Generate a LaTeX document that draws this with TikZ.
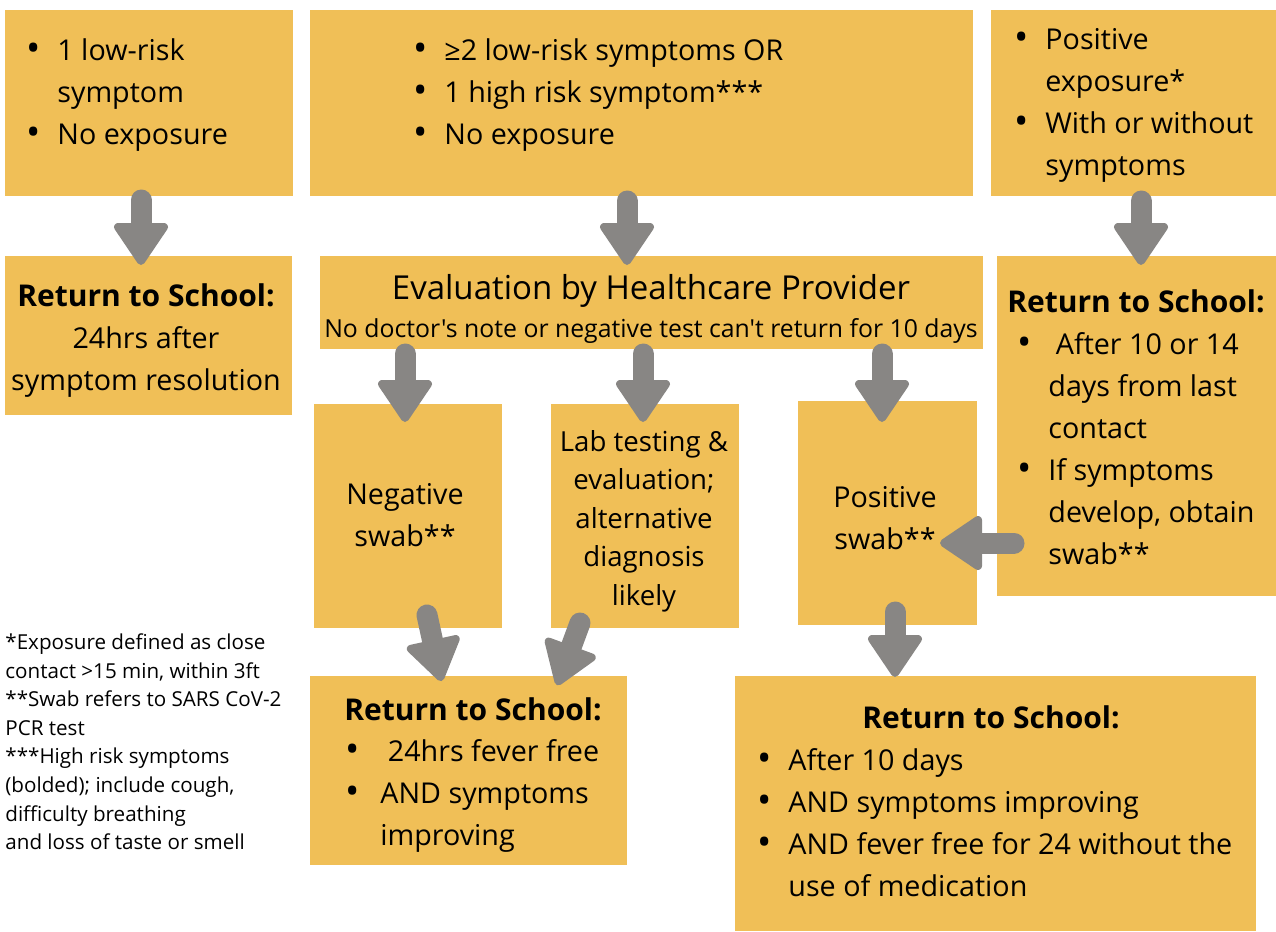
\documentclass[tikz,border=0pt]{standalone}
\usepackage{fontspec}
\setmainfont{Open Sans}
\newfontfamily\osraw{Open Sans}[Ligatures=TeXOff]
\usetikzlibrary{calc,fit}
\definecolor{gold}{RGB}{240,191,87}
\definecolor{agrey}{RGB}{136,134,132}
\newcommand\bfont{\fontsize{14.35}{21}\selectfont}
\newcommand\hdr[1]{{\fontsize{15}{21}\selectfont\bfseries #1}}
\newcommand\bu[1][15.5pt]{\makebox[#1][l]{\raisebox{-0.5pt}{\fontsize{19}{19}\selectfont •}}}
\newcommand\nb[1][15.5pt]{\hspace*{#1}}
\newcommand\blockarrow[2]{%
  \draw[ashaft] (#1) -- ($(#2)!20pt!(#1)$);
  \draw[ahead] ($(#2)!3.5pt!(#1)$) -- ($(#2)!20.5pt!(#1)!11.5pt!90:(#2)$)
     -- ($(#2)!20.5pt!(#1)!11.5pt!-90:(#2)$) -- cycle;}
\tikzset{
  box/.style={fill=gold, draw=none, inner sep=0pt},
  tl/.style={anchor=north west, align=left, inner sep=0pt, font=\bfont, yshift=14.7pt},
  tc/.style={anchor=north, align=center, inner sep=0pt, font=\bfont, yshift=14.7pt},
  ashaft/.style={draw=agrey, line width=10.5pt, line cap=round},
  ahead/.style={draw=agrey, fill=agrey, line width=4pt, line join=round},
}
\begin{document}
\begin{tikzpicture}[x=0.5pt,y=-0.5pt]
\useasboundingbox (0,0) rectangle (1276,932);
% boxes
\node[box, fit={(5,10)(293,196)}] (b1) {};
\node[box, fit={(310,10)(973,196)}] (b2) {};
\node[box, fit={(991,10)(1276,196)}] (b3) {};
\node[box, fit={(5,256)(292,415)}] (b4) {};
\node[box, fit={(320,256)(983,349)}] (b5) {};
\node[box, fit={(997,256)(1276,596)}] (b6) {};
\node[box, fit={(314,404)(502,628)}] (b7) {};
\node[box, fit={(551,404)(739,628)}] (b8) {};
\node[box, fit={(798,401)(977,625)}] (b9) {};
\node[box, fit={(310,676)(627,865)}] (b10) {};
\node[box, fit={(735,676)(1256,931)}] (b11) {};
% texts
\node[tl] (t1) at (26,60) {\strut\bu 1 low-risk\\\nb symptom\\\bu No exposure};
\node[tl] (t2) at (413,60) {\strut\bu ≥2 low-risk symptoms OR\\\bu 1 high risk symptom***\\\bu No exposure};
\node[tl] (t3) at (1014,49) {\strut\bu Positive\\\nb exposure*\\\bu With or without\\\nb symptoms};
\node[tc] (t4) at (146,306) {\strut\hdr{Return to School:}\\24hrs after\\symptom resolution};
\node[anchor=base, inner sep=0pt, font=\fontsize{16.5}{21}\selectfont] (t5a) at (651,299) {Evaluation by Healthcare Provider};
\node[anchor=base, inner sep=0pt, font=\osraw\fontsize{12.4}{21}\selectfont] (t5b) at (651,337) {No doctor's note or negative test can't return for 10 days};
\node[tc] (t6a) at (1136,312) {\strut\hdr{Return to School:}};
\node[tl] (t6b) at (1017,354) {\strut\bu\ After 10 or 14\\\nb days from last\\\nb contact\\\bu If symptoms\\\nb develop, obtain\\\nb swab**};
\node[tc] (t7) at (405,504) {\strut Negative\\swab**};
\node[tc, font=\fontsize{13.8}{19.25}\selectfont, yshift=-1.2pt] (t8) at (644,451) {\strut Lab testing \&\\evaluation;\\alternative\\diagnosis\\likely};
\node[tc] (t9) at (885,507) {\strut Positive\\swab**};
\node[tc] (t10a) at (473,720) {\strut\hdr{Return to School:}};
\node[tl] (t10b) at (345,761) {\strut\bu[17.5pt]\ 24hrs fever free\\\bu[17.5pt]AND symptoms\\\nb[17.5pt]improving};
\node[tc] (t11a) at (991,728) {\strut\hdr{Return to School:}};
\node[tl] (t11b) at (757,770) {\strut\bu After 10 days\\\bu AND symptoms improving\\\bu AND fever free for 24 without the\\\nb use of medication};
\node[anchor=north west, align=left, inner sep=0pt, font=\fontsize{10.3}{14.3}\selectfont, yshift=10pt] (fn) at (5,649)
  {\strut*Exposure defined as close\\contact >15 min, within 3ft\\**Swab refers to SARS CoV-2\\PCR test\\***High risk symptoms\\(bolded); include cough,\\difficulty breathing\\and loss of taste or smell};
% arrow coordinates
\coordinate (a1s) at (141,200); \coordinate (a1t) at (141,268);
\coordinate (a2s) at (627,201); \coordinate (a2t) at (627,268);
\coordinate (a3s) at (1141,201); \coordinate (a3t) at (1141,268);
\coordinate (a4s) at (405,354); \coordinate (a4t) at (405,425);
\coordinate (a5s) at (643,354); \coordinate (a5t) at (643,425);
\coordinate (a6s) at (882,354); \coordinate (a6t) at (882,425);
\coordinate (a7s) at (1014,543); \coordinate (a7t) at (937,543);
\coordinate (a8s) at (895,612); \coordinate (a8t) at (895,680);
\coordinate (a9s) at (427,615); \coordinate (a9t) at (442,684);
\coordinate (a10s) at (580,623); \coordinate (a10t) at (556,688);
\blockarrow{a1s}{a1t}
\blockarrow{a2s}{a2t}
\blockarrow{a3s}{a3t}
\blockarrow{a4s}{a4t}
\blockarrow{a5s}{a5t}
\blockarrow{a6s}{a6t}
\blockarrow{a7s}{a7t}
\blockarrow{a8s}{a8t}
\blockarrow{a9s}{a9t}
\blockarrow{a10s}{a10t}
\end{tikzpicture}
\end{document}
